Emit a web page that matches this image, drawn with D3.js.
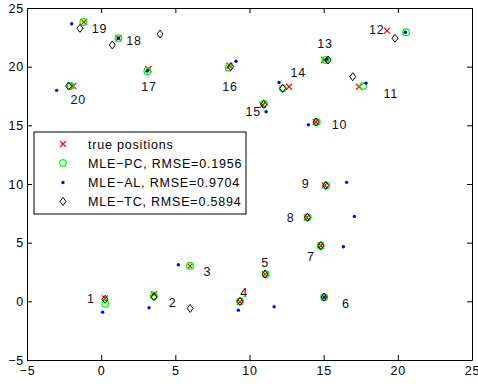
<!DOCTYPE html>
<html>
<head>
<meta charset="utf-8">
<title>Localization estimates</title>
<script src="https://d3js.org/d3.v7.min.js"></script>
<style>
  body { margin: 0; background: #fff; }
  text { font-family: "Liberation Sans", Arial, Helvetica, sans-serif; }
</style>
</head>
<body>
<svg id="chart"></svg>
<script>
// node ids and data
var ids   = d3.range(1, 21);
var trueX = [0.26, 3.58, 5.99, 9.36, 11.05, 15.03, 14.8, 13.86, 15.07, 14.47, 17.39, 19.27, 15.03, 12.67, 10.89, 8.64, 3.18, 1.16, -1.16, -1.88];
var trueY = [0.25, 0.62, 3.0, -0.04, 2.32, 0.36, 4.74, 7.16, 9.88, 15.28, 18.29, 23.07, 20.57, 18.29, 16.73, 20.08, 19.8, 22.42, 23.81, 18.35];
var pcX   = [0.28, 3.54, 5.99, 9.36, 11.1, 15.03, 14.8, 13.93, 15.18, 14.54, 17.66, 20.56, 15.12, 12.24, 10.98, 8.6, 3.11, 1.16, -1.2, -2.05];
var pcY   = [-0.21, 0.47, 3.03, 0.0, 2.32, 0.36, 4.74, 7.16, 9.88, 15.28, 18.35, 22.93, 20.57, 18.15, 16.84, 19.91, 19.63, 22.42, 23.81, 18.35];
var alX   = [0.1, 3.23, 5.2, 9.25, 11.66, 15.03, 16.33, 17.07, 16.55, 13.97, 17.86, 20.51, 15.21, 11.99, 11.12, 9.09, 3.11, 1.16, -1.99, -3.0];
var alY   = [-0.92, -0.55, 3.12, -0.75, -0.46, 0.36, 4.65, 7.24, 10.14, 15.05, 18.6, 22.93, 20.63, 18.66, 16.16, 20.46, 19.63, 22.42, 23.66, 17.98];
var tcX   = [0.26, 3.56, 6.0, 9.36, 11.05, 15.03, 14.8, 13.9, 15.14, 14.49, 16.96, 19.81, 15.3, 12.24, 10.96, 8.73, 3.97, 0.75, -1.43, -2.2];
var tcY   = [0.17, 0.39, -0.6, 0.0, 2.32, 0.36, 4.74, 7.16, 9.88, 15.28, 19.14, 22.42, 20.57, 18.15, 16.79, 20.0, 22.78, 21.85, 23.27, 18.35];
// where each id label sits (data units)
var labX  = [-0.7, 4.82, 7.16, 9.63, 11.05, 16.49, 14.13, 12.78, 13.79, 16.06, 19.52, 18.58, 15.09, 13.29, 10.26, 8.69, 3.23, 2.22, -0.12, -1.54];
var labY  = [0.25, -0.09, 2.58, 0.76, 3.29, -0.17, 3.86, 7.16, 10.06, 15.09, 17.73, 23.21, 21.99, 19.48, 16.22, 18.35, 18.35, 22.21, 23.27, 17.16];

var ticks = [-5, 0, 5, 10, 15, 20, 25];
var legendLabels = ["true positions", "MLE\u2212PC, RMSE=0.1956", "MLE\u2212AL, RMSE=0.9704", "MLE\u2212TC, RMSE=0.5894"];

var width = 478, height = 384;
var fs = 12.5, ls = 0.8;   // font size / letter spacing used for all text
var svg = d3.select("#chart").attr("width", width).attr("height", height);

var x = d3.scaleLinear().domain([-5, 25]).range([27, 472]);
var y = d3.scaleLinear().domain([-5, 25]).range([360, 8]);

// axes, ticks pointing inward, box on all four sides
function styleAxis(g) {
  g.selectAll("text").attr("font-size", fs).attr("letter-spacing", ls)
    .attr("fill", "#000").attr("font-family", "'Liberation Sans', Arial, sans-serif");
  g.selectAll("line").attr("stroke", "#000");
  g.select(".domain").attr("stroke", "#000");
}
svg.append("g").attr("transform", "translate(0,360)")
  .call(d3.axisBottom(x).tickValues(ticks).tickSize(-5).tickPadding(6).tickSizeOuter(0))
  .call(styleAxis);
svg.append("g").attr("transform", "translate(0,8)")
  .call(d3.axisTop(x).tickValues(ticks).tickSize(-5).tickFormat("").tickSizeOuter(0))
  .call(styleAxis);
svg.append("g").attr("transform", "translate(27,0)")
  .call(d3.axisLeft(y).tickValues(ticks).tickSize(-5).tickPadding(3).tickSizeOuter(0))
  .call(styleAxis);
svg.append("g").attr("transform", "translate(472,0)")
  .call(d3.axisRight(y).tickValues(ticks).tickSize(-5).tickFormat("").tickSizeOuter(0))
  .call(styleAxis);

// marker drawing helpers
function drawCross(g, cx, cy) {
  g.append("path")
    .attr("d", "M" + (cx - 3) + "," + (cy - 3) + "L" + (cx + 3) + "," + (cy + 3) +
               "M" + (cx - 3) + "," + (cy + 3) + "L" + (cx + 3) + "," + (cy - 3))
    .attr("stroke", "#ff0000").attr("stroke-width", 1.2).attr("fill", "none");
}
function drawCircle(g, cx, cy) {
  g.append("circle").attr("cx", cx).attr("cy", cy).attr("r", 3.3)
    .attr("stroke", "#00ff00").attr("stroke-width", 1.3).attr("fill", "none");
}
function drawDot(g, cx, cy) {
  g.append("circle").attr("cx", cx).attr("cy", cy).attr("r", 1.7).attr("fill", "#0000ff");
}
function drawDiamond(g, cx, cy) {
  g.append("path")
    .attr("d", "M" + cx + "," + (cy - 4) + "L" + (cx + 3) + "," + cy + "L" + cx + "," + (cy + 4) + "L" + (cx - 3) + "," + cy + "Z")
    .attr("stroke", "#000").attr("stroke-width", 1).attr("fill", "none");
}

var pts = svg.append("g");
ids.forEach(function (d, i) { drawCross(pts, x(trueX[i]), y(trueY[i])); });
ids.forEach(function (d, i) { drawCircle(pts, x(pcX[i]), y(pcY[i])); });
ids.forEach(function (d, i) { drawDot(pts, x(alX[i]), y(alY[i])); });
ids.forEach(function (d, i) { drawDiamond(pts, x(tcX[i]), y(tcY[i])); });

// id labels
svg.append("g").selectAll("text").data(ids).join("text")
  .attr("x", function (d, i) { return x(labX[i]); })
  .attr("y", function (d, i) { return y(labY[i]); })
  .attr("dy", "0.36em")
  .attr("text-anchor", "middle")
  .attr("font-size", fs)
  .attr("letter-spacing", ls)
  .attr("fill", "#111")
  .text(function (d) { return d; });

// legend
var leg = svg.append("g");
leg.append("rect").attr("x", 34).attr("y", 132).attr("width", 212).attr("height", 82)
  .attr("fill", "#fff").attr("stroke", "#000").attr("stroke-width", 1);
var rowY = [144, 163, 182.5, 201.5];
drawCross(leg, 63, rowY[0]);
drawCircle(leg, 63, rowY[1]);
drawDot(leg, 63, rowY[2]);
drawDiamond(leg, 63, rowY[3]);
leg.selectAll("text").data(legendLabels).join("text")
  .attr("x", 88)
  .attr("y", function (d, i) { return rowY[i]; })
  .attr("dy", "0.36em")
  .attr("font-size", fs)
  .attr("letter-spacing", ls)
  .text(function (d) { return d; });
</script>
</body>
</html>
